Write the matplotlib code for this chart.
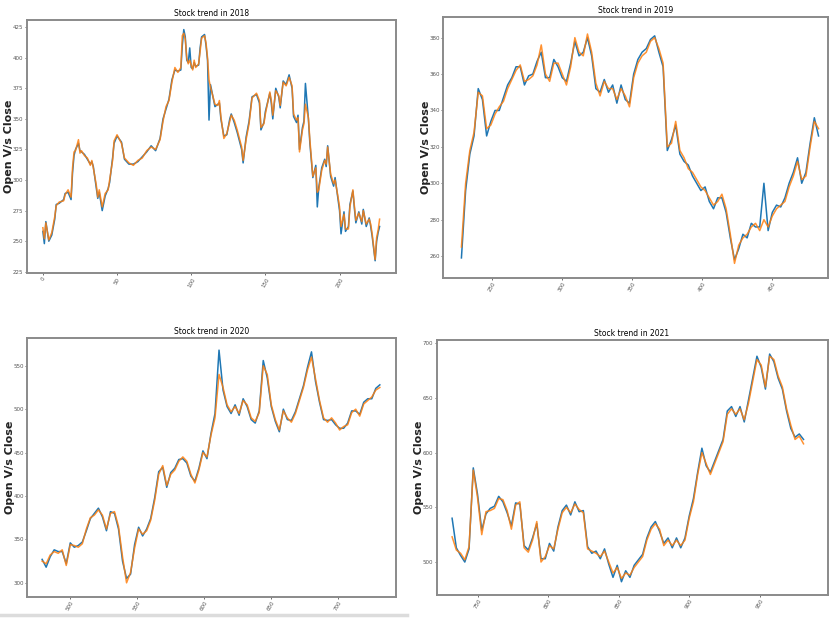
import numpy as np
import matplotlib
matplotlib.use("Agg")
import matplotlib.pyplot as plt
from matplotlib.lines import Line2D

# ---- data: trading-day index, Open and Close prices per year ----
day_2018 = [0, 1, 2, 4, 6, 8, 9, 11, 14, 15, 17, 19, 20, 21, 22, 24, 25, 26, 28, 30,
            32, 33, 34, 36, 37, 38, 40, 42, 44, 45, 47, 48, 50, 53, 55, 58, 61, 64, 67, 70,
            73, 76, 79, 81, 83, 85, 87, 89, 91, 93, 94, 95, 96, 97, 98, 99, 100, 101, 102, 103,
            105, 106, 107, 109, 110, 111, 112, 113, 116, 118, 119, 120, 122, 124, 126, 127, 129, 131, 134, 135,
            137, 139, 141, 144, 146, 147, 149, 150, 153, 154, 155, 157, 159, 160, 162, 164, 166, 168, 169, 171,
            172, 173, 175, 176, 177, 179, 180, 182, 184, 185, 186, 188, 190, 191, 192, 194, 196, 197, 199, 200,
            201, 203, 204, 206, 207, 209, 210, 211, 213, 215, 216, 218, 220, 221, 222, 224, 225, 226, 227]
close_2018 = [261, 252, 265, 251, 257, 270, 279, 282, 283, 288, 292, 286, 310, 323, 324, 333, 322, 324, 320, 318,
              312, 316, 310, 296, 286, 292, 278, 289, 292, 300, 316, 332, 337, 330, 318, 314, 312, 316, 318, 324,
              327, 325, 333, 348, 360, 365, 380, 392, 388, 392, 418, 420, 415, 400, 395, 398, 394, 390, 398, 392,
              395, 405, 416, 418, 412, 400, 382, 376, 362, 361, 365, 352, 334, 338, 348, 353, 349, 341, 327, 316,
              333, 346, 367, 371, 365, 343, 346, 354, 372, 365, 353, 373, 369, 361, 380, 377, 384, 377, 354, 349,
              351, 323, 341, 346, 362, 351, 333, 303, 310, 290, 292, 308, 316, 313, 327, 305, 297, 300, 286, 278,
              262, 272, 260, 260, 278, 292, 279, 267, 273, 266, 275, 264, 268, 264, 256, 235, 253, 259, 268]
open_2018 = [258, 248, 266, 250, 255, 268, 280, 281, 284, 289, 290, 284, 306, 320, 325, 330, 324, 323, 321, 317,
             313, 315, 311, 294, 285, 290, 275, 287, 293, 298, 318, 330, 336, 331, 317, 313, 313, 315, 319, 323,
             328, 324, 334, 350, 358, 366, 382, 390, 389, 390, 410, 423, 417, 398, 396, 408, 392, 391, 396, 393,
             394, 408, 417, 419, 410, 398, 349, 378, 360, 362, 363, 350, 336, 337, 350, 354, 347, 339, 325, 314,
             335, 348, 368, 370, 363, 341, 347, 356, 371, 363, 350, 375, 368, 359, 381, 378, 386, 375, 352, 347,
             353, 325, 343, 348, 379, 350, 330, 302, 312, 278, 294, 310, 317, 311, 328, 303, 295, 302, 284, 275,
             256, 274, 258, 262, 280, 291, 277, 265, 274, 264, 276, 262, 269, 262, 254, 234, 250, 257, 262]

day_2019 = list(range(228, 486, 3))
close_2019 = [265, 300, 318, 328, 350, 348, 330, 332, 338, 342, 345, 352, 357, 362, 365, 356,
              357, 359, 365, 376, 360, 356, 366, 366, 360, 354, 364, 380, 372, 370, 382, 372,
              355, 348, 356, 352, 352, 346, 352, 348, 342, 358, 366, 370, 372, 378, 380, 374,
              366, 320, 322, 334, 318, 314, 308, 306, 302, 298, 296, 292, 288, 290, 294, 286,
              272, 256, 266, 270, 272, 276, 278, 274, 280, 276, 282, 286, 288, 290, 298, 304,
              312, 302, 304, 320, 334, 330]
open_2019 = [259, 296, 316, 326, 352, 346, 326, 334, 340, 340, 347, 354, 358, 364, 364, 354,
             359, 360, 367, 372, 358, 358, 368, 364, 358, 356, 366, 378, 370, 372, 380, 370,
             352, 350, 357, 350, 354, 344, 354, 346, 344, 360, 368, 372, 374, 379, 381, 372,
             364, 318, 324, 332, 316, 312, 310, 304, 300, 296, 298, 290, 286, 292, 292, 284,
             270, 258, 264, 272, 270, 278, 276, 276, 300, 274, 284, 288, 287, 292, 300, 306,
             314, 300, 306, 322, 336, 326]

day_2020 = list(range(479, 734, 3))
close_2020 = [325, 322, 332, 336, 334, 338, 320, 344, 343, 341, 345, 362, 375, 378, 384, 378,
              362, 380, 382, 365, 330, 300, 312, 340, 362, 356, 360, 372, 395, 425, 435, 412,
              425, 430, 440, 445, 440, 425, 415, 430, 450, 445, 470, 490, 540, 525, 505, 497,
              503, 495, 510, 505, 490, 486, 496, 550, 540, 505, 488, 476, 498, 490, 485, 495,
              510, 525, 545, 560, 535, 510, 490, 485, 490, 484, 476, 480, 482, 496, 500, 492,
              506, 510, 514, 522, 525]
open_2020 = [327, 318, 330, 338, 336, 336, 322, 346, 341, 343, 347, 360, 374, 380, 386, 376,
             360, 382, 380, 362, 325, 305, 310, 344, 364, 354, 362, 374, 398, 428, 433, 410,
             427, 432, 442, 443, 438, 423, 417, 432, 452, 443, 472, 495, 568, 522, 503, 495,
             505, 493, 512, 503, 488, 484, 498, 556, 536, 503, 486, 474, 500, 488, 487, 497,
             512, 527, 548, 566, 532, 508, 488, 487, 488, 482, 478, 478, 484, 498, 498, 494,
             508, 512, 512, 524, 528]

day_2021 = list(range(732, 984, 3))
close_2021 = [523, 511, 508, 502, 514, 584, 559, 525, 546, 547, 549, 558, 557, 547, 530, 552,
              555, 513, 509, 520, 537, 500, 505, 515, 512, 530, 545, 550, 545, 553, 548, 545,
              512, 510, 508, 505, 510, 500, 490, 495, 485, 490, 488, 495, 500, 505, 520, 530,
              535, 530, 515, 520, 515, 520, 515, 520, 540, 555, 580, 600, 590, 580, 590, 600,
              610, 635, 640, 635, 640, 630, 645, 665, 685, 680, 660, 688, 685, 670, 660, 640,
              625, 612, 615, 608]
open_2021 = [540, 513, 506, 500, 512, 586, 562, 529, 544, 549, 551, 560, 555, 545, 533, 554,
             553, 515, 511, 522, 535, 503, 503, 517, 510, 532, 547, 552, 543, 555, 546, 547,
             514, 508, 510, 503, 512, 498, 486, 497, 482, 492, 486, 497, 502, 507, 522, 532,
             537, 528, 517, 522, 513, 522, 513, 522, 542, 558, 582, 604, 588, 582, 592, 602,
             612, 638, 642, 633, 642, 628, 648, 668, 688, 678, 658, 690, 683, 668, 658, 638,
             622, 614, 617, 612]

panels = [
    ("2018", day_2018, open_2018, close_2018, [0.032, 0.559, 0.445, 0.409], (-11, 238), (224, 431),
     np.arange(0, 201, 50), np.arange(225, 426, 25)),
    ("2019", day_2019, open_2019, close_2019, [0.534, 0.551, 0.464, 0.422], (215, 490), (248, 391.5),
     np.arange(250, 451, 50), np.arange(260, 381, 20)),
    ("2020", day_2020, open_2020, close_2020, [0.033, 0.036, 0.444, 0.418], (468, 743), (284, 582),
     np.arange(500, 701, 50), np.arange(300, 551, 50)),
    ("2021", day_2021, open_2021, close_2021, [0.526, 0.039, 0.471, 0.412], (721, 998), (470, 703),
     np.arange(750, 951, 50), np.arange(500, 701, 50)),
]

fig = plt.figure(figsize=(8.3, 6.19), dpi=100)

for year, days, op, cl, pos, xl, yl, xt, yt in panels:
    ax = fig.add_axes(pos)
    ax.plot(days, op, color='#1f77b4', lw=1.1)
    ax.plot(days, cl, color='#ff7f0e', lw=1.1, alpha=0.85)
    ax.set_xlim(*xl)
    ax.set_ylim(*yl)
    ax.set_xticks(xt)
    ax.set_yticks(yt)
    ax.tick_params(labelsize=4, colors='#555555', length=1.5, width=0.6, pad=1)
    plt.setp(ax.get_xticklabels(), rotation=60)
    for s in ax.spines.values():
        s.set_color('#8a8a8a')
        s.set_linewidth(1.4)
    ax.set_title("Stock trend in " + year, fontsize=5.5, pad=3)
    ax.set_ylabel("Open V/s Close", fontsize=8, fontweight='bold', color='#222222')
    # label sits just left of the tick labels, as in the reference
    ax.yaxis.set_label_coords(-12.5 / (pos[2] * 830), 0.5)

# light grey strip along the bottom-left edge of the screenshot
fig.add_artist(Line2D([0, 0.49], [0.006, 0.006], color='#dcdcdc', lw=2.5,
                      transform=fig.transFigure))

fig.savefig("out.png", dpi=100)
